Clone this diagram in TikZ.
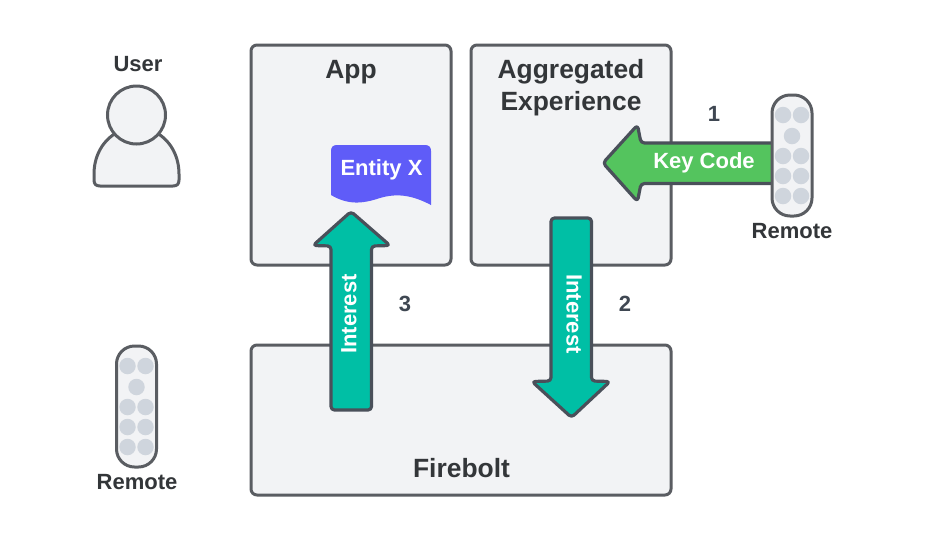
\documentclass[tikz,border=0pt]{standalone}
\usepackage{fontspec}
\setmainfont{Liberation Sans}
\definecolor{boxfill}{HTML}{F2F3F5}
\definecolor{boxline}{HTML}{5A5D62}
\definecolor{arrowline}{HTML}{4A505A}
\definecolor{keygreen}{HTML}{54C45E}
\definecolor{teal2}{HTML}{00BFA5}
\definecolor{dotgray}{HTML}{CFD5DD}
\definecolor{txt}{HTML}{333639}
\definecolor{numtxt}{HTML}{3F4752}
\definecolor{entity}{HTML}{5F5CF8}
\tikzset{
  panel/.style={draw=boxline,fill=boxfill,line width=3pt,rounded corners=6pt},
  blockarrow/.style={draw=arrowline,line width=3.2pt,rounded corners=3.5pt,line join=round},
  title/.style={font=\fontsize{26.4}{30}\selectfont\bfseries,text=txt,inner sep=0pt,align=center},
  small/.style={font=\fontsize{22}{26}\selectfont\bfseries,text=txt,inner sep=0pt},
  num/.style={font=\fontsize{22}{26}\selectfont\bfseries,text=numtxt,inner sep=0pt},
  onarrow/.style={font=\fontsize{22}{26}\selectfont\bfseries,text=white,inner sep=0pt},
  remotebody/.style={draw=boxline,fill=boxfill,line width=3pt,rounded corners=18pt},
  btn/.style={circle,fill=dotgray,draw=none,minimum size=16.5pt,inner sep=0pt},
}
\newcommand{\remotedraw}[2]{%
  \begin{scope}[shift={(#1,#2)}]
    \draw[remotebody] (0,0) rectangle (40,121);
    \foreach \px/\py in {11/20,29/20,20/41,11/61,29/61,11/81,29/81,11/101,29/101}
      \node[btn] at (\px,\py) {};
  \end{scope}}
\begin{document}
\begin{tikzpicture}[x=1pt,y=-1pt]
\useasboundingbox (0,0) rectangle (929,550);
\fill[white] (0,0) rectangle (929,550);

% panels
\draw[panel] (251,45) rectangle (451,265);
\draw[panel] (471,45) rectangle (671,265);
\draw[panel] (251,345) rectangle (671,495);
\node[title] (apptitle) at (351,72) {App};
\node[title] (aggtitle) at (571,88) {Aggregated\\[2pt]Experience};
\node[title] (firetitle) at (461.5,468) {Firebolt};

% user
\draw[panel,rounded corners=0pt] (116,133) .. controls (101,142) and (94,158) .. (94,174)
  -- (94,180) .. controls (94,184) and (96,186) .. (100,186)
  -- (173,186) .. controls (177,186) and (179,184) .. (179,180)
  -- (179,174) .. controls (179,158) and (172,142) .. (157,133) -- cycle;
\node[circle,draw=boxline,fill=boxfill,line width=3pt,minimum size=58pt,inner sep=0pt] (head) at (136.5,115) {};
\node[small] (usertext) at (138,64) {User};

% entity
\fill[entity] (331,195) -- (331,151) .. controls (331,147) and (333,145) .. (337,145)
  -- (425,145) .. controls (429,145) and (431,147) .. (431,151)
  -- (431,205) .. controls (412,195) and (397,193) .. (380,198)
  .. controls (362,204) and (348,205) .. (331,195) -- cycle;
\node[onarrow] (entitytext) at (381.5,170) {Entity X};

% arrows
\draw[blockarrow,fill=keygreen] (778,143) -- (641,143) -- (637.5,125) -- (603,163) -- (637.5,201.5) -- (641,183.5) -- (778,183.5);
\draw[blockarrow,fill=teal2] (331,410) -- (331,246) -- (313,245.5) -- (351,211.5) -- (390,245.5) -- (371.5,246) -- (371.5,410) -- cycle;
\draw[blockarrow,fill=teal2] (551,218) -- (551,381) -- (532,381.5) -- (571.5,417.5) -- (610,381.5) -- (591.5,381) -- (591.5,218) -- cycle;

\node[onarrow] (keytext) at (704,163) {Key Code};
\node[onarrow,rotate=90] (int1) at (349,314) {Interest};
\node[onarrow,rotate=-90] (int2) at (574,314) {Interest};

\node[num] (n1) at (714,113.5) {1};
\node[num] (n2) at (625,303.5) {2};
\node[num] (n3) at (405,303.5) {3};

% remotes
\remotedraw{772}{95}
\node[small] (rem1) at (792,231.5) {Remote};
\remotedraw{116.5}{346}
\node[small] (rem2) at (137,482) {Remote};
\end{tikzpicture}
\end{document}
